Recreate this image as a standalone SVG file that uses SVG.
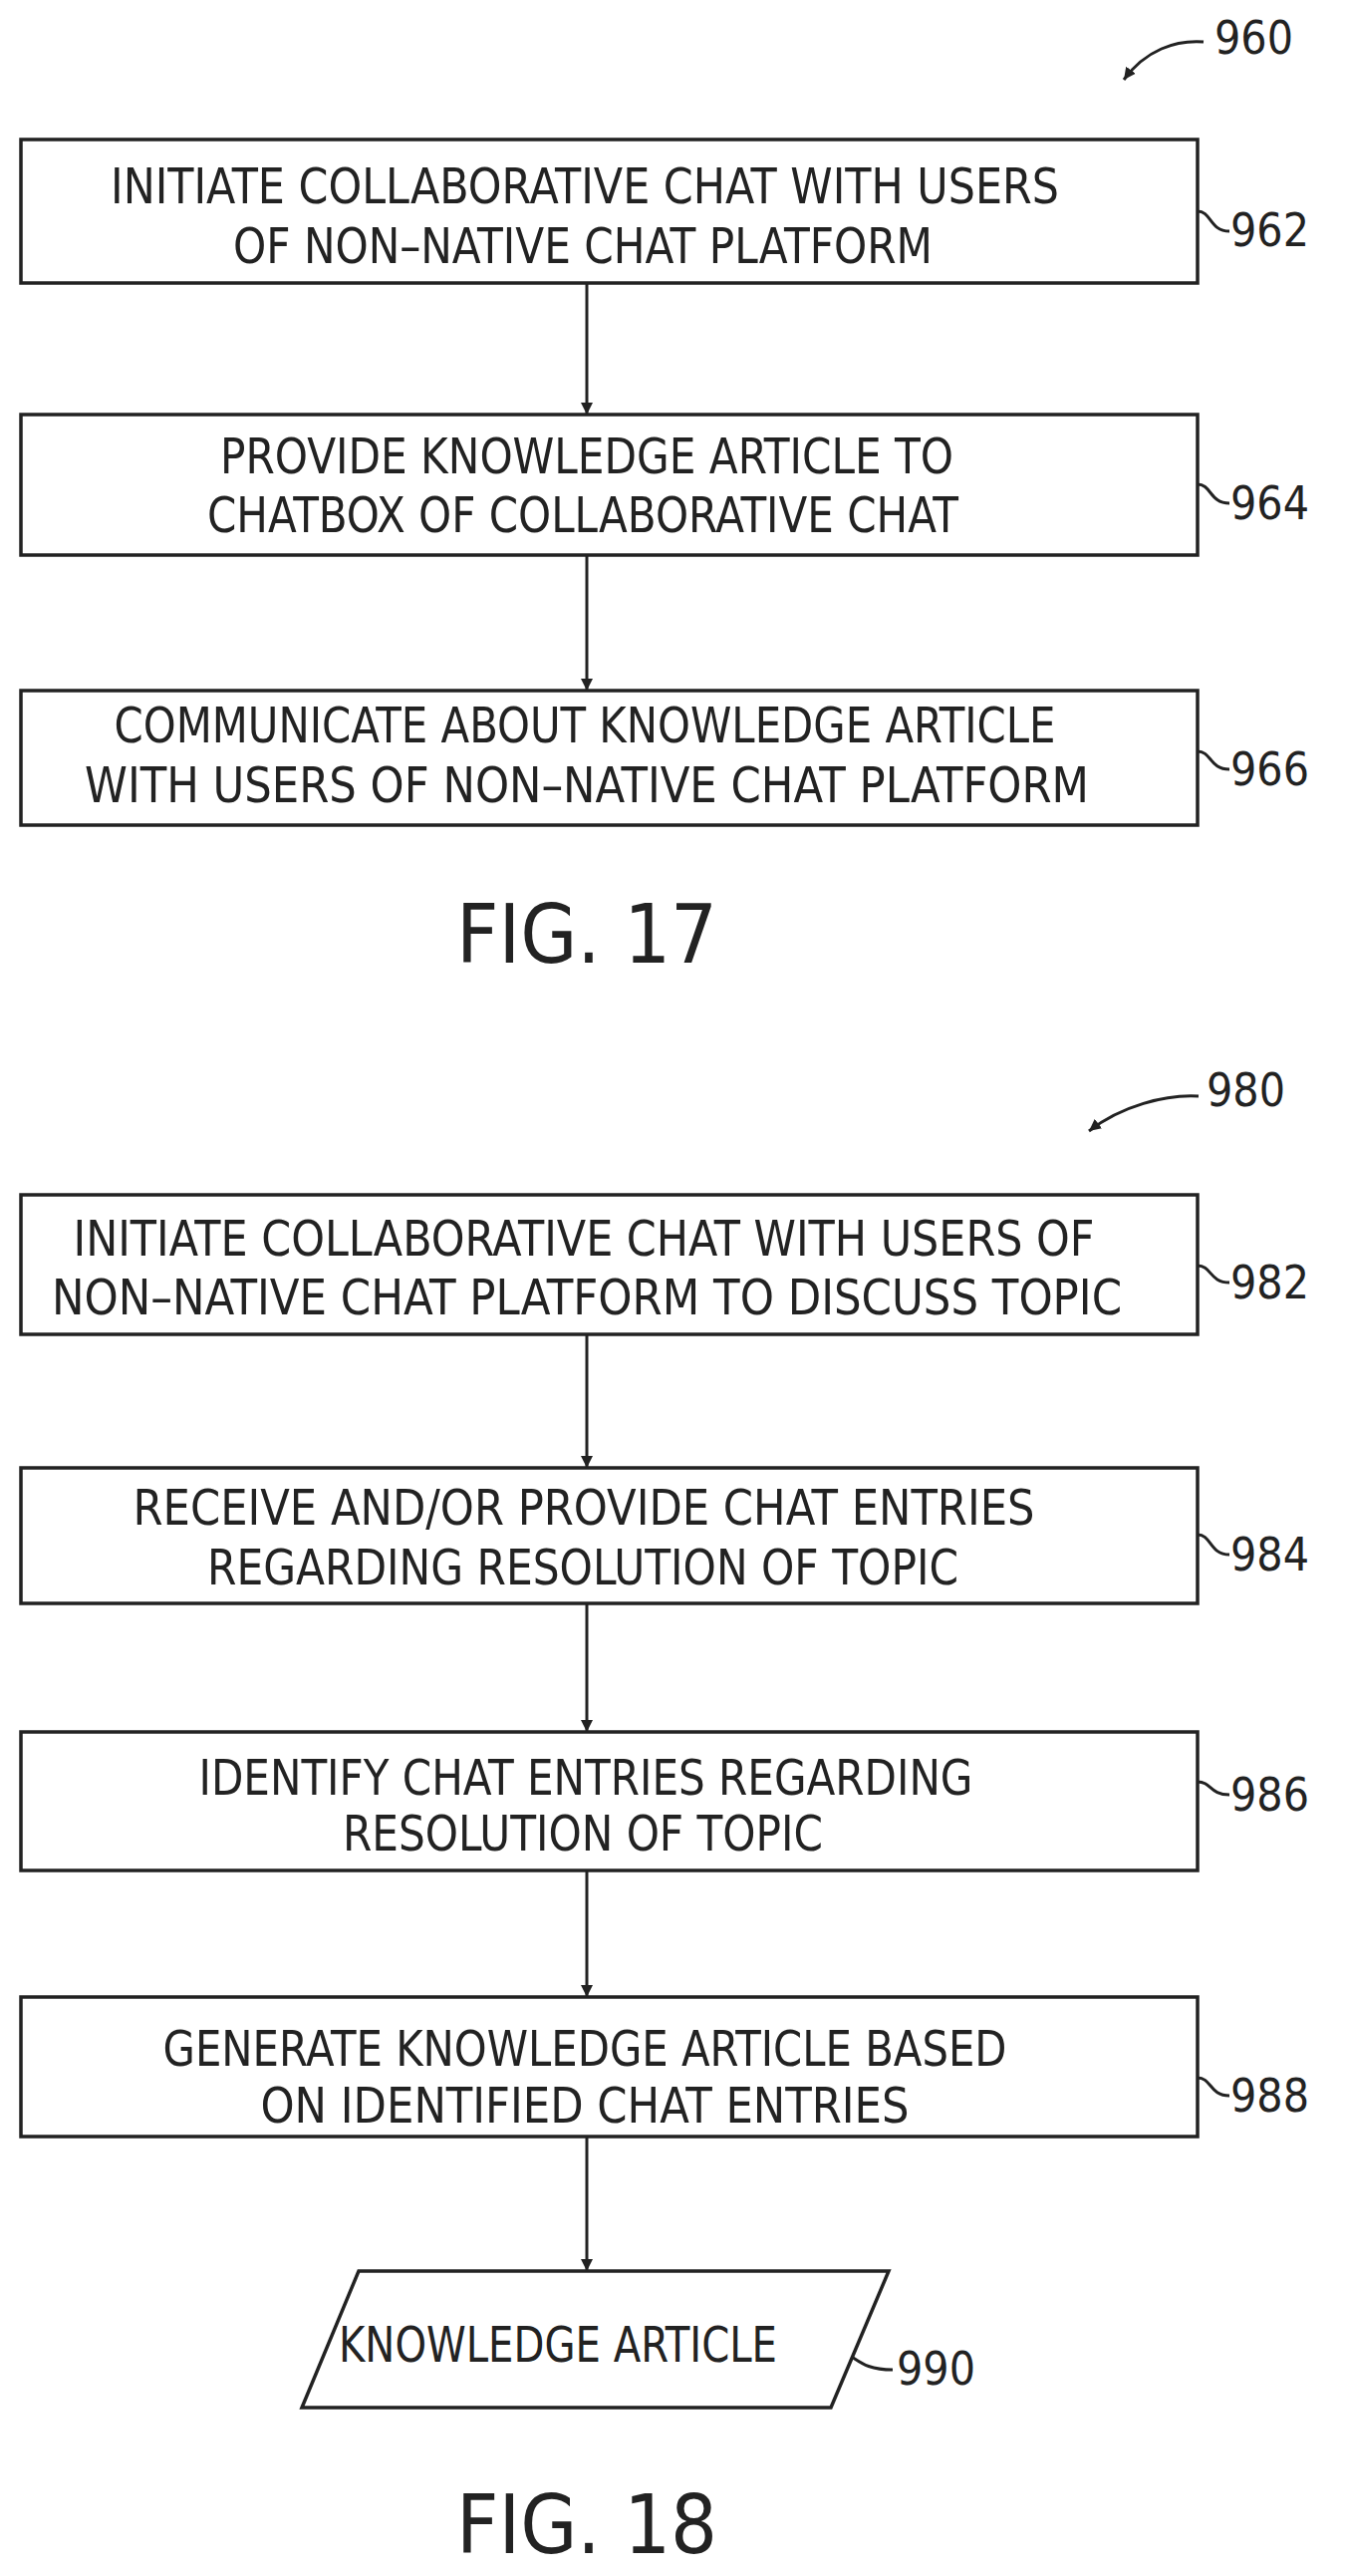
<svg xmlns="http://www.w3.org/2000/svg" width="1350" height="2585" viewBox="0 0 1350 2585">
<defs>
<marker id="ah" markerWidth="14" markerHeight="14" refX="12" refY="7" orient="auto" markerUnits="userSpaceOnUse"><path d="M0,1 L12,7 L0,13 Z" fill="#222"/></marker>
<style>
.b{fill:#fff;stroke:#222;stroke-width:3.5}
.t{font-family:"DejaVu Sans Condensed","DejaVu Sans",sans-serif;font-size:50px;fill:#222;text-anchor:middle}
.l{font-family:"DejaVu Sans Condensed","DejaVu Sans",sans-serif;font-size:46px;fill:#222}
.f{font-family:"DejaVu Sans Condensed","DejaVu Sans",sans-serif;font-size:82px;fill:#222;text-anchor:middle}
.c{fill:none;stroke:#222;stroke-width:3}
</style>
</defs>
<rect width="1350" height="2585" fill="#fff"/>
<g id="connectors">
<path class="c" d="M1208,42 C1180,40 1150,50 1128,80" marker-end="url(#ah)"/>
<path class="c" d="M1203,1100 C1170,1098 1125,1110 1093,1135" marker-end="url(#ah)"/>
<path class="c" d="M589,284 V416" marker-end="url(#ah)"/>
<path class="c" d="M589,557 V693" marker-end="url(#ah)"/>
<path class="c" d="M589,1339 V1473" marker-end="url(#ah)"/>
<path class="c" d="M589,1609 V1738" marker-end="url(#ah)"/>
<path class="c" d="M589,1877 V2004" marker-end="url(#ah)"/>
<path class="c" d="M589,2144 V2279" marker-end="url(#ah)"/>
<path class="c" d="M1202,212 C1216,212 1214,232 1234,232"/>
<path class="c" d="M1202,486 C1216,486 1214,505 1234,505"/>
<path class="c" d="M1202,754 C1216,754 1214,772 1234,772"/>
<path class="c" d="M1202,1270 C1216,1270 1214,1287 1234,1287"/>
<path class="c" d="M1202,1540 C1216,1540 1214,1560 1234,1560"/>
<path class="c" d="M1202,1788 C1216,1788 1214,1801 1234,1801"/>
<path class="c" d="M1202,2085 C1216,2085 1214,2103 1234,2103"/>
<path class="c" d="M838,2360 C860,2360 858,2378 896,2378"/>
</g>
<g id="n960"><text class="l" x="1219" y="54">960</text></g>
<g id="n962"><rect class="b" x="21" y="140" width="1181" height="144"/>
<text class="t" x="587" y="204" textLength="952" lengthAdjust="spacingAndGlyphs">INITIATE COLLABORATIVE CHAT WITH USERS</text>
<text class="t" x="585" y="264" textLength="702" lengthAdjust="spacingAndGlyphs">OF NON–NATIVE CHAT PLATFORM</text>
<text class="l" x="1235" y="247">962</text></g>
<g id="n964"><rect class="b" x="21" y="416" width="1181" height="141"/>
<text class="t" x="589" y="475" textLength="736" lengthAdjust="spacingAndGlyphs">PROVIDE KNOWLEDGE ARTICLE TO</text>
<text class="t" x="585" y="534" textLength="754" lengthAdjust="spacingAndGlyphs">CHATBOX OF COLLABORATIVE CHAT</text>
<text class="l" x="1235" y="521">964</text></g>
<g id="n966"><rect class="b" x="21" y="693" width="1181" height="135"/>
<text class="t" x="587" y="745" textLength="945" lengthAdjust="spacingAndGlyphs">COMMUNICATE ABOUT KNOWLEDGE ARTICLE</text>
<text class="t" x="589" y="805" textLength="1008" lengthAdjust="spacingAndGlyphs">WITH USERS OF NON–NATIVE CHAT PLATFORM</text>
<text class="l" x="1235" y="788">966</text></g>
<g id="fig17"><text class="f" x="589" y="966">FIG. 17</text></g>
<g id="n980"><text class="l" x="1211" y="1110">980</text></g>
<g id="n982"><rect class="b" x="21" y="1199" width="1181" height="140"/>
<text class="t" x="586" y="1260" textLength="1025" lengthAdjust="spacingAndGlyphs">INITIATE COLLABORATIVE CHAT WITH USERS OF</text>
<text class="t" x="589" y="1319" textLength="1074" lengthAdjust="spacingAndGlyphs">NON–NATIVE CHAT PLATFORM TO DISCUSS TOPIC</text>
<text class="l" x="1235" y="1303">982</text></g>
<g id="n984"><rect class="b" x="21" y="1473" width="1181" height="136"/>
<text class="t" x="586" y="1530" textLength="905" lengthAdjust="spacingAndGlyphs">RECEIVE AND/OR PROVIDE CHAT ENTRIES</text>
<text class="t" x="585" y="1590" textLength="754" lengthAdjust="spacingAndGlyphs">REGARDING RESOLUTION OF TOPIC</text>
<text class="l" x="1235" y="1576">984</text></g>
<g id="n986"><rect class="b" x="21" y="1738" width="1181" height="139"/>
<text class="t" x="588" y="1801" textLength="777" lengthAdjust="spacingAndGlyphs">IDENTIFY CHAT ENTRIES REGARDING</text>
<text class="t" x="585" y="1857" textLength="482" lengthAdjust="spacingAndGlyphs">RESOLUTION OF TOPIC</text>
<text class="l" x="1235" y="1817">986</text></g>
<g id="n988"><rect class="b" x="21" y="2004" width="1181" height="140"/>
<text class="t" x="587" y="2073" textLength="847" lengthAdjust="spacingAndGlyphs">GENERATE KNOWLEDGE ARTICLE BASED</text>
<text class="t" x="587" y="2130" textLength="651" lengthAdjust="spacingAndGlyphs">ON IDENTIFIED CHAT ENTRIES</text>
<text class="l" x="1235" y="2119">988</text></g>
<g id="n990"><path class="b" d="M360,2279 H892 L834,2416 H303 Z" stroke-width="3"/>
<text class="t" x="560" y="2370" textLength="440" lengthAdjust="spacingAndGlyphs">KNOWLEDGE ARTICLE</text>
<text class="l" x="900" y="2393">990</text></g>
<g id="fig18"><text class="f" x="589" y="2562">FIG. 18</text></g>
</svg>
